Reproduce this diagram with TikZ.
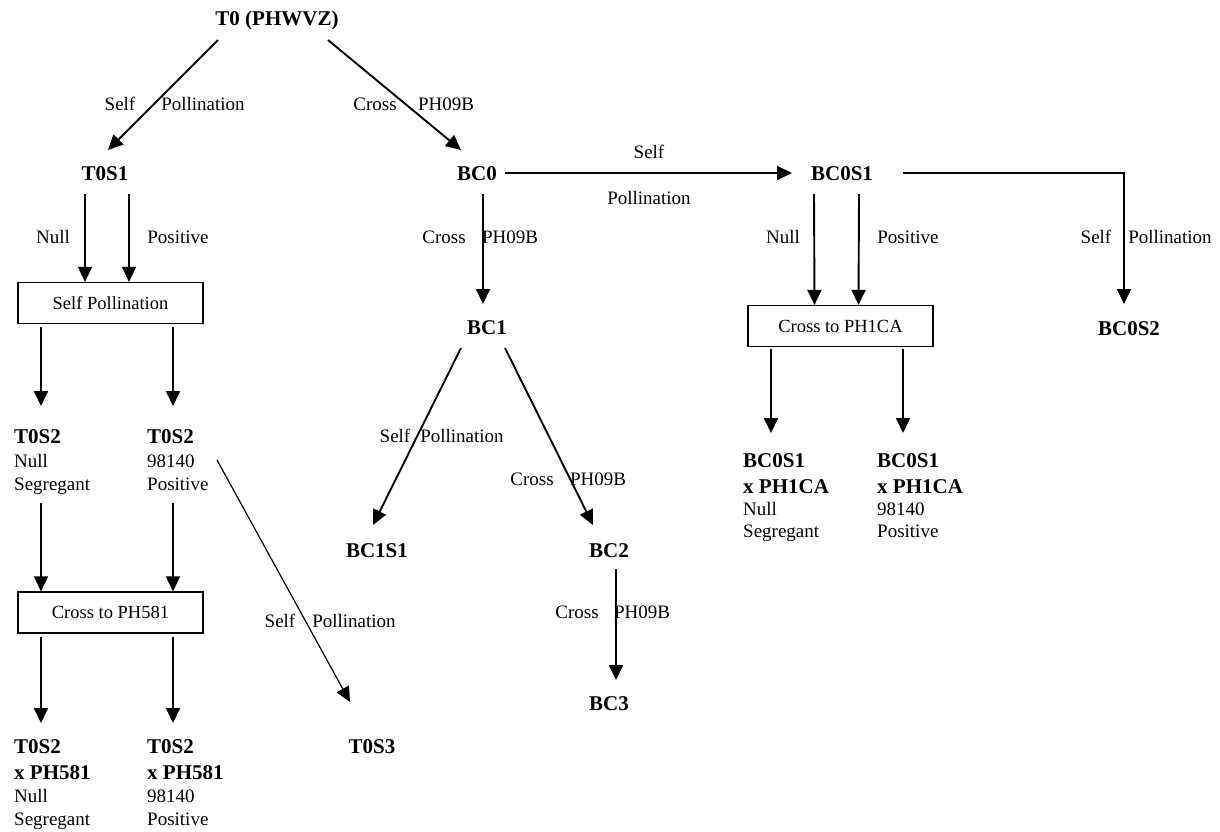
\documentclass[tikz,border=0pt]{standalone}
\usepackage{fontspec}
\setmainfont{Liberation Serif}
\usetikzlibrary{arrows.meta,calc}
\tikzset{
  lab/.style={inner sep=0pt, anchor=base, font=\fontsize{19}{22}\selectfont},
  gen/.style={inner sep=0pt, anchor=base, font=\fontsize{21}{24}\selectfont\bfseries},
  lnb/.style={inner sep=0pt, anchor=base west, font=\fontsize{21}{24}\selectfont\bfseries},
  lnr/.style={inner sep=0pt, anchor=base west, font=\fontsize{19}{22}\selectfont},
  stepbox/.style={draw, line width=1.2pt, inner sep=0pt, minimum width=185pt, minimum height=41pt, font=\fontsize{18.5}{22}\selectfont},
  tip/.style={-{Triangle[length=15pt,width=14pt]}},
  arr/.style={line width=1.9pt, tip},
  arrthin/.style={line width=1.2pt, tip},
}
\begin{document}
\begin{tikzpicture}[x=1pt,y=-1pt]
\useasboundingbox (0,0) rectangle (1220,831);
% generation labels
\node[gen] (T0) at (277,25) {T0 (PHWVZ)};
\node[gen] (T0S1) at (105,180) {T0S1};
\node[gen] (BC0) at (477,180) {BC0};
\node[gen] (BC0S1) at (842,180) {BC0S1};
\node[gen] (BC0S2) at (1129,335) {BC0S2};
\node[gen] (BC1) at (487,334) {BC1};
\node[gen] (BC1S1) at (377,557) {BC1S1};
\node[gen] (BC2) at (609,557) {BC2};
\node[gen] (BC3) at (609,710) {BC3};
\node[gen] (T0S3) at (372,753) {T0S3};
% boxes
\node[stepbox] (box1) at (110.5,303) {Self Pollination};
\node[stepbox] (box2) at (110.5,612.5) {Cross to PH581};
\node[stepbox] (box3) at (840.5,326) {Cross to PH1CA};
% text blocks
\node[lnb] (n1a) at (14,443) {T0S2};
\node[lnr] (n1b) at (14,467) {Null};
\node[lnr] (n1c) at (14,490) {Segregant};
\node[lnb] (p1a) at (147,443) {T0S2};
\node[lnr] (p1b) at (147,467) {98140};
\node[lnr] (p1c) at (147,490) {Positive};
\node[lnb] (n2a) at (14,753) {T0S2};
\node[lnb] (n2b) at (14,779) {x PH581};
\node[lnr] (n2c) at (14,802) {Null};
\node[lnr] (n2d) at (14,825) {Segregant};
\node[lnb] (p2a) at (147,753) {T0S2};
\node[lnb] (p2b) at (147,779) {x PH581};
\node[lnr] (p2c) at (147,802) {98140};
\node[lnr] (p2d) at (147,825) {Positive};
\node[lnb] (n3a) at (743,467) {BC0S1};
\node[lnb] (n3b) at (743,493) {x PH1CA};
\node[lnr] (n3c) at (743,515) {Null};
\node[lnr] (n3d) at (743,537) {Segregant};
\node[lnb] (p3a) at (877,467) {BC0S1};
\node[lnb] (p3b) at (877,493) {x PH1CA};
\node[lnr] (p3c) at (877,515) {98140};
\node[lnr] (p3d) at (877,537) {Positive};
% connectors
\draw[arr] ($(T0.base)+(-59,15)$) -- ($(T0S1.base)+(3,-30)$);
\draw[arr] ($(T0.base)+(51,15)$) -- ($(BC0.base)+(-16,-30)$);
\draw[arr] ($(BC0.base)+(28,-7)$) -- ($(BC0S1.base)+(-50,-7)$);
\draw[arrthin] ($(BC0S1.base)+(61,-7)$) -| ($(BC0S2.base)+(-5,-31)$);
\draw[arr] ($(BC0S1.base)+(-28,14)$) -- ($(box3.north)+(-26,0)$);
\draw[arr] ($(BC0S1.base)+(17,14)$) -- ($(box3.north)+(18,0)$);
\draw[arr] ($(box3.south)+(-69.5,2)$) -- ($(n3a.base west)+(28,-34)$);
\draw[arr] ($(box3.south)+(62.5,2)$) -- ($(p3a.base west)+(26,-34)$);
\draw[arr] ($(BC0.base)+(6,14)$) -- ($(BC1.base)+(-4,-30)$);
\draw[arr] ($(BC1.base)+(-26,14)$) -- ($(BC1S1.base)+(-4,-32)$);
\draw[arr] ($(BC1.base)+(18,14)$) -- ($(BC2.base)+(-16,-32)$);
\draw[arr] ($(BC2.base)+(7,12)$) -- ($(BC3.base)+(7,-30)$);
\draw[arr] ($(T0S1.base)+(-20,14)$) -- ($(box1.north)+(-25.5,0)$);
\draw[arrthin] ($(T0S1.base)+(24,14)$) -- ($(box1.north)+(18.5,0)$);
\draw[arr] ($(box1.south)+(-69.5,3)$) -- ($(n1a.base west)+(27,-37)$);
\draw[arr] ($(box1.south)+(62.5,3)$) -- ($(p1a.base west)+(26,-37)$);
\draw[arr] ($(n1c.base west)+(27,13)$) -- ($(box2.north)+(-69.5,0)$);
\draw[arr] ($(p1c.base west)+(26,13)$) -- ($(box2.north)+(62.5,0)$);
\draw[arr] ($(box2.south)+(-69.5,3)$) -- ($(n2a.base west)+(27,-30)$);
\draw[arr] ($(box2.south)+(62.5,3)$) -- ($(p2a.base west)+(26,-30)$);
\draw[arrthin] ($(p1b.base west)+(70,-7)$) -- ($(T0S3.base)+(-22,-51)$);
% connector labels
\node[lab] (l1a) at (120,110) {Self};
\node[lab] (l1b) at (203,110) {Pollination};
\node[lab] (l2a) at (375,110) {Cross};
\node[lab] (l2b) at (446,110) {PH09B};
\node[lab] (l3a) at (649,158) {Self};
\node[lab] (l3b) at (649,204) {Pollination};
\node[lab] (l4a) at (53,243) {Null};
\node[lab] (l4b) at (178,243) {Positive};
\node[lab] (l5a) at (444,243) {Cross};
\node[lab] (l5b) at (510,243) {PH09B};
\node[lab] (l6a) at (783,243) {Null};
\node[lab] (l6b) at (908,243) {Positive};
\node[lab] (l7a) at (1096,243) {Self};
\node[lab] (l7b) at (1170,243) {Pollination};
\node[lab] (l8a) at (395,442) {Self};
\node[lab] (l8b) at (462,442) {Pollination};
\node[lab] (l9a) at (532,485) {Cross};
\node[lab] (l9b) at (598,485) {PH09B};
\node[lab] (l10a) at (577,618) {Cross};
\node[lab] (l10b) at (642,618) {PH09B};
\node[lab] (l11a) at (280,627) {Self};
\node[lab] (l11b) at (354,627) {Pollination};
\end{tikzpicture}
\end{document}
